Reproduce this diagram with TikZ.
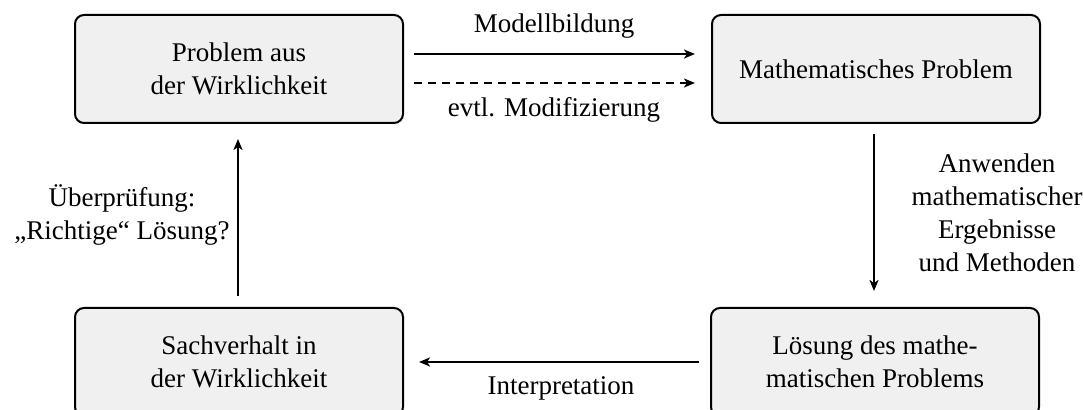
\documentclass[tikz,border=0pt]{standalone}
\usepackage{fontspec}
\setmainfont{Liberation Serif}
\usetikzlibrary{arrows.meta,calc}
\definecolor{boxfill}{HTML}{F0F0F0}
\tikzset{
  stepbox/.style={draw=black, line width=1pt, rounded corners=4.5pt, fill=boxfill,
    minimum width=164pt, minimum height=54pt, align=center, inner sep=0pt,
    font=\fontsize{13.5}{16.5}\selectfont},
  lbl/.style={align=center, inner sep=0pt, font=\fontsize{13.5}{16.5}\selectfont},
  conn/.style={line width=1pt, -{Stealth[length=5.5pt,width=4.5pt,inset=1.5pt]}},
}
\begin{document}
\begin{tikzpicture}[x=0.5pt,y=-0.5pt]
\useasboundingbox (0,0) rectangle (1083,410);
\clip (0,0) rectangle (1083,410);
\node[stepbox] (TL) at (239,69) {Problem aus\\der Wirklichkeit};
\node[stepbox] (TR) at (876,69) {Mathematisches Problem};
\node[stepbox] (BL) at (239,362) {Sachverhalt in\\der Wirklichkeit};
\node[stepbox] (BR) at (875,362) {Lösung des mathe-\\matischen Problems};
\draw[conn] ($(TL.east)+(10,-15)$) -- ($(TR.west)+(-16,-15)$);
\draw[conn,dash pattern=on 4pt off 3pt] ($(TL.east)+(10,14)$) -- ($(TR.west)+(-16,14)$);
\draw[conn] ($(TR.south)+(-2,10)$) -- ($(BR.north)+(-1,-16)$);
\draw[conn] ($(BR.west)+(-11,0)$) -- ($(BL.east)+(15,0)$);
\draw[conn] ($(BL.north)+(-1,-11)$) -- ($(TL.south)+(-1,15)$);
\node[lbl] (l1) at (554,26) {Modellbildung};
\node[lbl] (l2) at (554,110) {evtl. Modifizierung};
\node[lbl] (l3) at (997,213) {Anwenden\\mathematischer\\Ergebnisse\\und Methoden};
\node[lbl] (l4) at (561,388) {Interpretation};
\node[lbl] (l5) at (122,215) {Überprüfung:\\„Richtige“ Lösung?};
\end{tikzpicture}
\end{document}
